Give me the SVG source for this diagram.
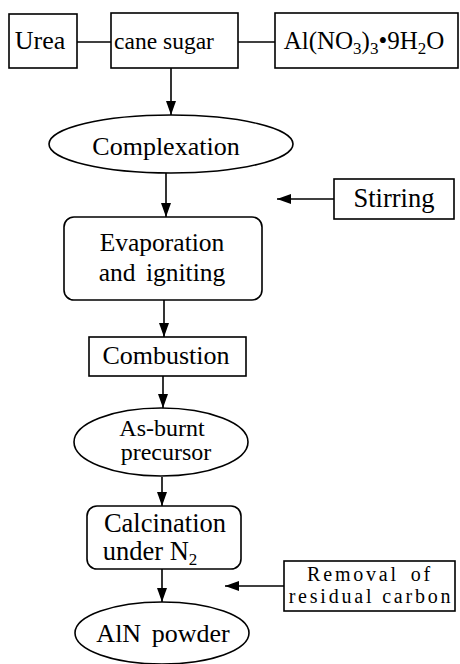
<svg xmlns="http://www.w3.org/2000/svg" width="460" height="664" viewBox="0 0 460 664">
<defs>
<marker id="ah" markerWidth="14" markerHeight="10" refX="14" refY="5" orient="auto" markerUnits="userSpaceOnUse">
<path d="M0,0 L14,5 L0,10 Z" fill="#000"/>
</marker>
</defs>
<style>
.b{fill:#fff;stroke:#000;stroke-width:1.6}
.t{font-family:"Liberation Serif","Times New Roman",serif;font-size:25px;fill:#000;text-anchor:middle}
.m{font-family:"Liberation Serif","Times New Roman",serif;font-size:20px;letter-spacing:2.8px;fill:#000;text-anchor:middle}
.c{stroke:#000;stroke-width:1.6;fill:none}
.a{stroke:#000;stroke-width:1.6;fill:none;marker-end:url(#ah)}
</style>
<rect width="460" height="664" fill="#fff"/>
<g id="connectors">
<line class="c" x1="77" y1="42" x2="111" y2="42"/>
<line class="c" x1="238" y1="42" x2="275" y2="42"/>
<line class="a" x1="171" y1="68" x2="171" y2="115"/>
<line class="a" x1="166" y1="173" x2="166" y2="217"/>
<line class="a" x1="334" y1="199" x2="277" y2="199"/>
<line class="a" x1="164" y1="300" x2="164" y2="337"/>
<line class="a" x1="163" y1="376" x2="163" y2="408"/>
<line class="a" x1="162" y1="477" x2="162" y2="506"/>
<line class="a" x1="162" y1="569" x2="162" y2="602"/>
<line class="a" x1="284" y1="586" x2="225" y2="586"/>
</g>
<g id="urea">
<rect class="b" x="9" y="14" width="68" height="54"/>
<text class="t" x="40" y="49" style="font-size:26px">Urea</text>
</g>
<g id="cane-sugar">
<rect class="b" x="111" y="13" width="127" height="55"/>
<text class="t" x="164" y="49" style="font-size:23.5px">cane sugar</text>
</g>
<g id="aluminium-nitrate">
<rect class="b" x="275" y="13" width="183" height="55"/>
<text class="t" x="364" y="49" style="font-size:25px">Al(NO<tspan font-size="17" dy="5">3</tspan><tspan dy="-5">)</tspan><tspan font-size="17" dy="5">3</tspan><tspan dy="-5">•9H</tspan><tspan font-size="17" dy="5">2</tspan><tspan dy="-5">O</tspan></text>
</g>
<g id="complexation">
<ellipse class="b" cx="171" cy="144" rx="122" ry="29"/>
<text class="t" x="166" y="155" style="font-size:26px">Complexation</text>
</g>
<g id="stirring">
<rect class="b" x="334" y="179" width="120" height="40"/>
<text class="t" x="394" y="207" style="font-size:26.5px">Stirring</text>
</g>
<g id="evaporation">
<rect class="b" x="64" y="217" width="198" height="83" rx="10"/>
<text class="t" x="162" y="251" style="font-size:25.5px">Evaporation</text>
<text class="t" x="162" y="281" style="font-size:25.5px" word-spacing="4">and igniting</text>
</g>
<g id="combustion">
<rect class="b" x="89" y="337" width="157" height="39"/>
<text class="t" x="166" y="364" style="font-size:26px">Combustion</text>
</g>
<g id="as-burnt">
<ellipse class="b" cx="161" cy="442" rx="87" ry="34"/>
<text class="t" x="162" y="436" style="font-size:24px">As-burnt</text>
<text class="t" x="166" y="460" style="font-size:24px">precursor</text>
</g>
<g id="calcination">
<rect class="b" x="87" y="506" width="154" height="63" rx="10"/>
<text class="t" x="165" y="532" style="font-size:26.5px">Calcination</text>
<text class="t" x="150" y="560" style="font-size:26.5px">under N<tspan font-size="17" dy="5">2</tspan></text>
</g>
<g id="removal">
<rect class="b" x="284" y="561" width="171" height="50"/>
<text class="m" x="370" y="581" word-spacing="4">Removal of</text>
<text class="m" x="371" y="603">residual carbon</text>
</g>
<g id="aln-powder">
<ellipse class="b" cx="162" cy="633" rx="87" ry="31"/>
<text class="t" x="163" y="642" style="font-size:26px" word-spacing="4">AlN powder</text>
</g>
</svg>
